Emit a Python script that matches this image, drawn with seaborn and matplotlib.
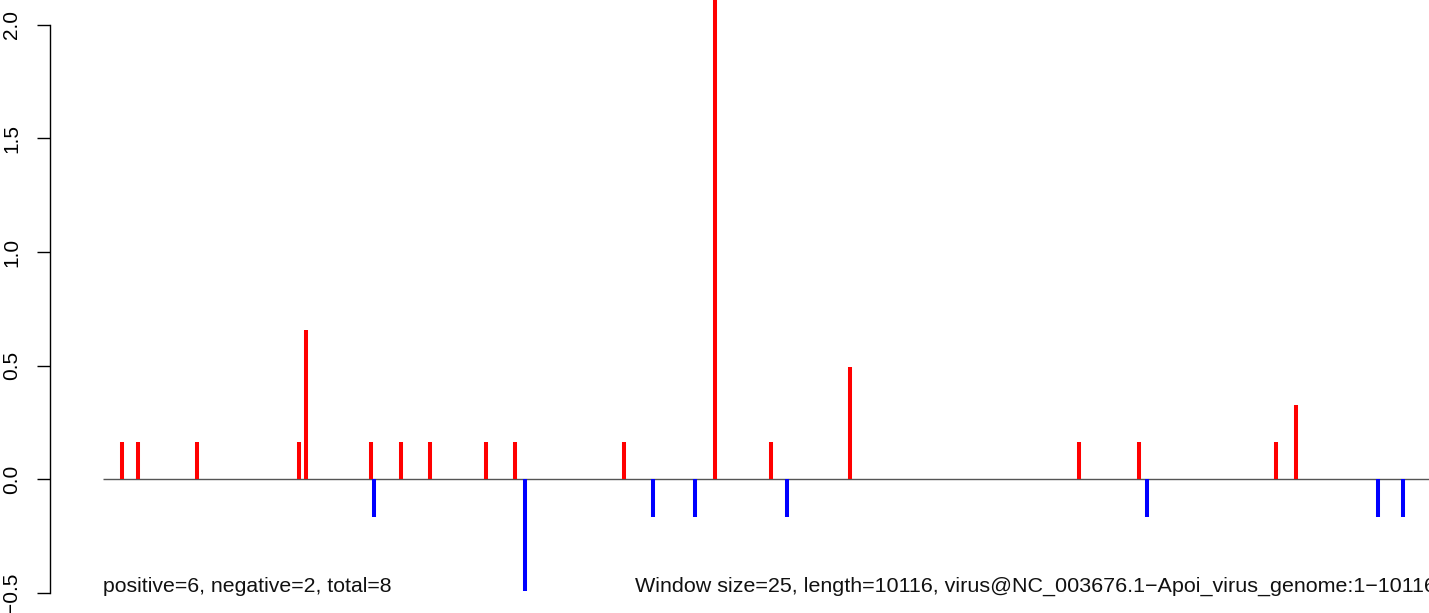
import matplotlib
matplotlib.use("Agg")
import matplotlib.pyplot as plt
import seaborn as sns

# positions (bp) and scores
red_pos = [144, 262, 709, 1483, 1536, 2027, 2252, 2471, 2895, 3114,
           3940, 4632, 5050, 5648, 7383, 7834, 8871, 9023]
red_val = [0.165, 0.165, 0.165, 0.165, 0.657, 0.165, 0.165, 0.165, 0.165, 0.165,
           0.165, 2.5, 0.165, 0.494, 0.165, 0.165, 0.165, 0.327]
blue_pos = [2048, 3190, 4160, 4480, 5177, 7900, 9641, 9837]
blue_val = [-0.163, -0.489, -0.163, -0.163, -0.163, -0.163, -0.163, -0.163]
y_ticks = [-0.5, 0.0, 0.5, 1.0, 1.5, 2.0]
genome_len = 10116
left_note = "positive=6, negative=2, total=8"
right_note = "Window size=25, length=10116, virus@NC_003676.1\u2212Apoi_virus_genome:1\u221210116"

sns.set_theme(style="ticks")
plt.rcParams['font.family'] = ['Liberation Sans', 'DejaVu Sans']

fig = plt.figure(figsize=(14.29, 6.13), dpi=100)
ax = fig.add_axes([50 / 1429, 0, 1 - 50 / 1429, 1])

ax.hlines(0, 0, genome_len, color='#555555', lw=1.0, zorder=1)
ax.vlines(red_pos, 0, red_val, colors='red', lw=2.9, zorder=2)
ax.vlines(blue_pos, 0, blue_val, colors='blue', lw=2.9, zorder=2)

ax.set_xlim(-401, 10030)
ax.set_ylim(-0.587, 2.108)
ax.set_yticks(y_ticks)
ax.set_yticklabels([f"{t:.1f}".replace('-', '\u2212') for t in y_ticks])
ax.set_xticks([])
ax.tick_params(axis='y', length=9.4, width=1.0, pad=11.5, labelsize=15,
               labelrotation=90, colors='black', direction='out')
for lbl in ax.get_yticklabels():
    lbl.set_va('center')

sns.despine(ax=ax, top=True, right=True, bottom=True, left=False)
ax.spines['left'].set_bounds(-0.5, 2.0)
ax.spines['left'].set_linewidth(1.0)
ax.spines['left'].set_color('black')
ax.patch.set_alpha(0)

ax.text(0, -0.494, left_note, fontsize=15.3, ha='left', va='baseline', color='#111111')
ax.text(4024, -0.494, right_note, fontsize=15.45, ha='left', va='baseline', color='#111111',
        clip_on=False)

fig.savefig("out.png", dpi=100, facecolor='white')
